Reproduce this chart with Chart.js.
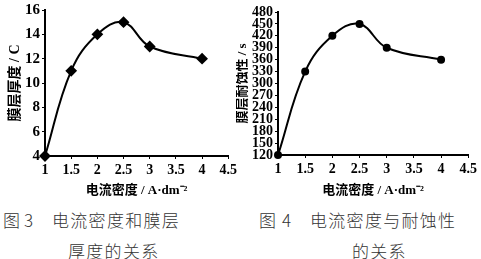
<!DOCTYPE html>
<html lang="zh-CN">
<head>
    <meta charset="UTF-8">
    <title>电流密度</title>
    <script src="https://cdn.jsdelivr.net/npm/chart.js"></script>
    <style>
        body {
            margin: 0;
            background: #fff;
            width: 481px;
            height: 259px;
            position: relative;
            overflow: hidden;
        }
        canvas {
            position: absolute;
            top: 0;
        }
        #c3 { left: 0; }
        #c4 { left: 236px; }
        .cap {
            position: absolute;
            font-family: "Noto Sans CJK SC";
            font-weight: 300;
            font-size: 17px;
            line-height: 17px;
            letter-spacing: 1.3px;
            color: #333;
            white-space: nowrap;
        }
    </style>
</head>
<body>
    <canvas id="c3" width="240" height="200"></canvas>
    <canvas id="c4" width="244" height="200"></canvas>

    <div class="cap" style="left:3px; top:211px;">图</div>
    <div class="cap" style="left:24px; top:211px;">3</div>
    <div class="cap" style="left:52px; top:211px;">电流密度和膜层</div>
    <div class="cap" style="left:68px; top:242px;">厚度的关系</div>

    <div class="cap" style="left:259px; top:211px;">图</div>
    <div class="cap" style="left:282px; top:211px;">4</div>
    <div class="cap" style="left:310px; top:211px;">电流密度与耐蚀性</div>
    <div class="cap" style="left:352px; top:242px;">的关系</div>

<script>
    // 电流密度 (A·dm^-2)
    const density = [1, 1.5, 2, 2.5, 3, 4];
    // 膜层厚度 (C)
    const thickness = [4, 11, 14, 15, 13, 12];
    // 膜层耐蚀性 (s)
    const corrosion = [120, 330, 420, 450, 390, 360];

    const xTitle = '电流密度 / A·dm⁻²';
    const serif = 'Liberation Serif';
    const titleFont = "'Liberation Serif', 'Noto Sans CJK SC'";

    function makeChart(id, values, o) {
        return new Chart(document.getElementById(id), {
            type: 'line',
            data: {
                datasets: [{
                    data: density.map((x, i) => ({ x: x, y: values[i] })),
                    borderColor: '#000',
                    backgroundColor: '#000',
                    borderWidth: 2,
                    tension: 0.4,
                    pointStyle: o.pointStyle,
                    pointRadius: o.pointRadius,
                    clip: false
                }]
            },
            options: {
                responsive: false,
                devicePixelRatio: 1,
                animation: false,
                layout: { padding: { left: 0, right: o.right, top: o.top, bottom: 0 } },
                plugins: {
                    legend: { display: false },
                    tooltip: { enabled: false }
                },
                scales: {
                    x: {
                        type: 'linear',
                        min: 1,
                        max: 4.5,
                        border: { color: '#000', width: 2 },
                        grid: { drawOnChartArea: false, tickLength: 3, color: '#000' },
                        ticks: {
                            stepSize: 0.5,
                            padding: 3,
                            color: '#000',
                            maxRotation: 0,
                            font: { family: serif, size: 14, weight: 'bold' },
                            callback: v => String(v)
                        },
                        title: {
                            display: true,
                            text: xTitle,
                            color: '#000',
                            font: { family: titleFont, size: 13, weight: 'bold', lineHeight: 1.2 },
                            padding: { top: 0, bottom: 2 }
                        },
                        afterFit: s => { s.height = o.xHeight; }
                    },
                    y: {
                        min: o.yMin,
                        max: o.yMax,
                        border: { color: '#000', width: 2 },
                        grid: { drawOnChartArea: false, tickLength: 3, color: '#000' },
                        ticks: {
                            stepSize: o.step,
                            autoSkip: false,
                            padding: 2,
                            color: '#000',
                            font: { family: serif, size: o.yFont, weight: 'bold', lineHeight: 1 }
                        },
                        title: {
                            display: true,
                            text: o.yTitle,
                            color: '#000',
                            font: { family: titleFont, size: o.yTitleSize, weight: 'bold', lineHeight: 1 },
                            padding: { top: o.yTitlePad, bottom: 0 }
                        },
                        afterFit: s => { s.width = o.yWidth; }
                    }
                }
            }
        });
    }

    makeChart('c3', thickness, {
        yMin: 4, yMax: 16, step: 2, yFont: 15,
        yTitle: '膜层厚度 / C', yTitleSize: 14, yTitlePad: 8,
        yWidth: 45, xHeight: 44, right: 7, top: 10,
        pointStyle: 'rectRot', pointRadius: 4.5
    });

    makeChart('c4', corrosion, {
        yMin: 120, yMax: 480, step: 30, yFont: 14,
        yTitle: '膜层耐蚀性 / s', yTitleSize: 13, yTitlePad: 0,
        yWidth: 42, xHeight: 45, right: 8, top: 12,
        pointStyle: 'circle', pointRadius: 3
    });
</script>
</body>
</html>
